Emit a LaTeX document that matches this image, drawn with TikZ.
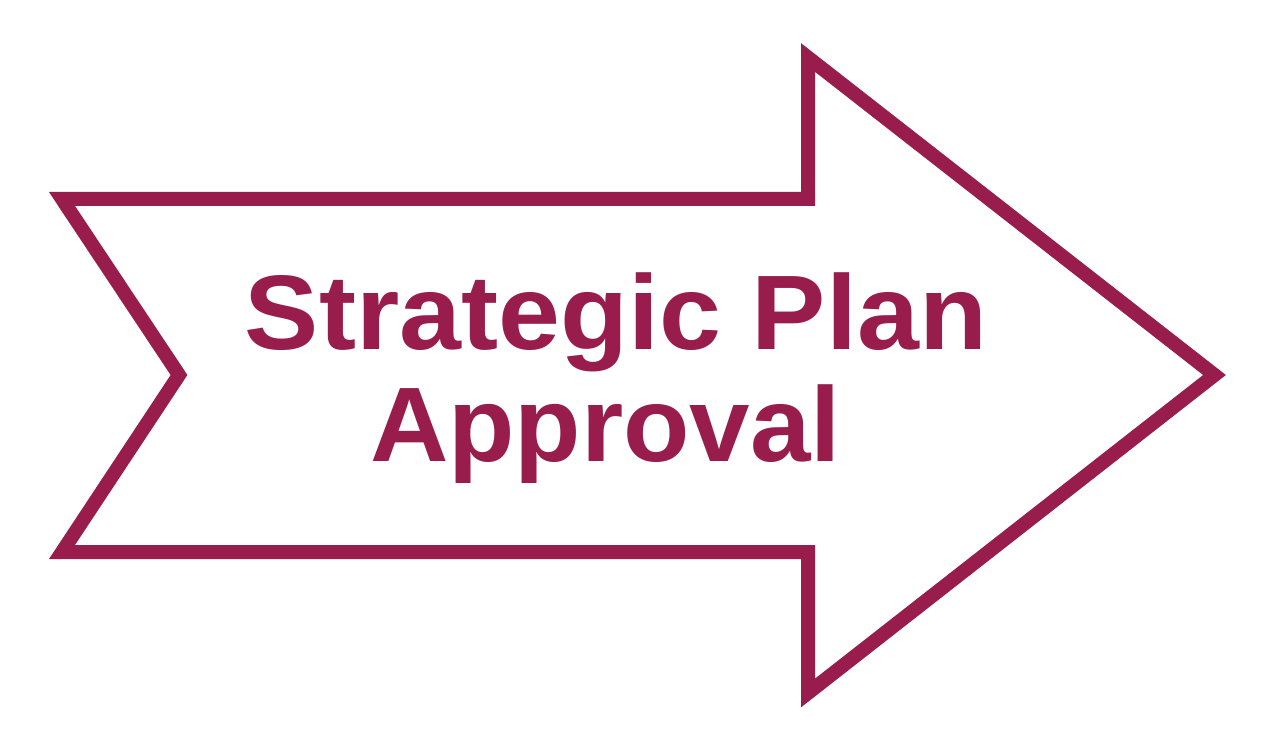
\documentclass[tikz,border=0pt]{standalone}
\usepackage{fontspec}
\setmainfont{Liberation Sans}
\definecolor{plum}{RGB}{152,28,76}
\tikzset{
  arrowline/.style={draw=plum, line width=14pt, line join=miter, miter limit=20},
  label/.style={text=plum, font=\fontsize{106}{110}\selectfont\bfseries, inner sep=0pt, anchor=base}
}
\begin{document}
\begin{tikzpicture}[x=1pt,y=-1pt]
\useasboundingbox (0,0) rectangle (1280,754);
\coordinate (tl) at (62,199);
\coordinate (ht) at (808,199);
\coordinate (htop) at (808,57.5);
\coordinate (tip) at (1214.5,375);
\coordinate (hbot) at (808,693);
\coordinate (hb) at (808,552);
\coordinate (bl) at (62,552);
\coordinate (notch) at (179,375);
\draw[arrowline] (tl) -- (ht) -- (htop) -- (tip) -- (hbot) -- (hb) -- (bl) -- (notch) -- cycle;
\node[label] (l1) at (616,349) {\scalebox{1.05}[1]{Strategic Plan}};
\node[label] (l2) at (605.5,461) {\scalebox{1.025}[1]{Approval}};
\end{tikzpicture}
\end{document}
